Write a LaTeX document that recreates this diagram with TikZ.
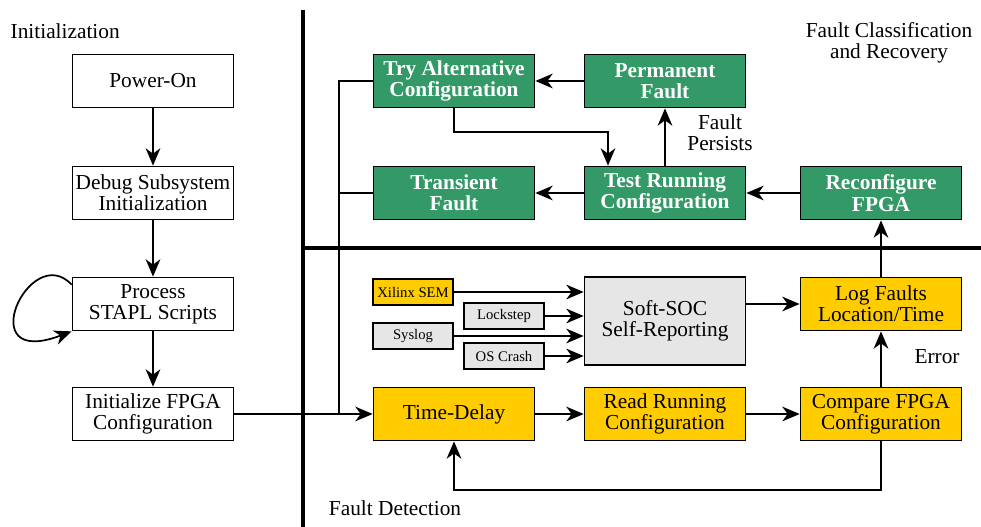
\documentclass[tikz,border=0pt]{standalone}
\usepackage{fontspec}
\setmainfont{Liberation Serif}
\usetikzlibrary{arrows.meta, positioning, calc}
\definecolor{faultGreen}{RGB}{51,153,102}
\definecolor{detectYellow}{RGB}{255,204,0}
\definecolor{reportGray}{RGB}{230,230,230}
\tikzset{
  plain/.style = {
    draw,
    line width=1.3pt,
    fill=white,
    align=center,
    minimum width=120.75pt,
    minimum height=39.75pt,
    inner sep=1pt,
    font=\fontsize{16}{16}\selectfont,
  },
  recovery/.style = {
    plain,
    fill=faultGreen,
    text=white,
    font=\fontsize{16}{16}\selectfont\bfseries,
  },
  detect/.style = {
    plain,
    fill=detectYellow,
  },
  report/.style = {
    plain,
    fill=reportGray,
  },
  source/.style = {
    draw,
    line width=1.3pt,
    minimum width=60pt,
    minimum height=20pt,
    inner sep=1pt,
    font=\fontsize{11}{13}\selectfont,
  },
  flow/.style = {
    -{Stealth[length=13pt, width=11pt, inset=4pt]},
    line width=1.3pt,
  },
  link/.style = {
    line width=1.3pt,
  },
  divider/.style = {
    line width=2.3pt,
  },
  caption/.style = {
    align=center,
    font=\fontsize{16}{16}\selectfont,
  },
}

\begin{document}
\begin{tikzpicture}[x=0.75pt, y=-0.75pt]
\useasboundingbox (0,0) rectangle (981,527);

% section dividers
\draw[divider] (303,10) -- (303,527);
\draw[divider] (303,248) -- (981,248);

% initialization
\node(Init)[caption, anchor=west] at (6,31) {Initialization};
\node(PowerOn)[plain] at (153,81) {Power-On};
\node(Debug)[plain] at (153,193) {Debug Subsystem\\Initialization};
\node(Stapl)[plain] at (153,304) {Process\\STAPL Scripts};
\node(InitFPGA)[plain] at (153,414) {Initialize FPGA\\Configuration};

\draw[flow] (PowerOn) -- (Debug);
\draw[flow] (Debug) -- (Stapl);
\draw[flow] (Stapl) -- (InitFPGA);
\draw[flow] ([yshift=-6pt]Stapl.north west) .. controls (30,240) and (-30,370) .. (Stapl.south west);

% fault classification and recovery
\node(Recovery)[caption] at (889,43) {Fault Classification\\and Recovery};
\node(TryAlt)[recovery] at (454,81) {Try Alternative\\Configuration};
\node(Permanent)[recovery] at (665,81) {Permanent\\Fault};
\node(Transient)[recovery] at (454,193) {Transient\\Fault};
\node(TestRun)[recovery] at (665,193) {Test Running\\Configuration};
\node(Reconfig)[recovery] at (881,193) {Reconfigure\\FPGA};
\node(Persists)[caption] at (720,133) {Fault\\Persists};

\draw[flow] (Permanent) -- (TryAlt);
\draw[flow] (TestRun) -- (Permanent);
\draw[flow] (TestRun) -- (Transient);
\draw[flow] (Reconfig) -- (TestRun);
\coordinate(Bend) at (608,132);
\draw[flow] (TryAlt.south) |- (Bend) -- (Bend |- TestRun.north);

% fault detection
\node(Detection)[caption] at (395,508) {Fault Detection};
\node(Xilinx)[source, fill=detectYellow] at (413,292) {Xilinx SEM};
\node(Lockstep)[source, fill=reportGray] at (504,316) {Lockstep};
\node(Syslog)[source, fill=reportGray] at (413,336) {Syslog};
\node(OSCrash)[source, fill=reportGray] at (504,356) {OS Crash};
\node(SoftSOC)[report, minimum height=66pt] at (665,321) {Soft-SOC\\Self-Reporting};
\node(LogFaults)[detect] at (881,304) {Log Faults\\Location/Time};
\node(TimeDelay)[detect] at (454,414) {Time-Delay};
\node(ReadRun)[detect] at (665,414) {Read Running\\Configuration};
\node(Compare)[detect] at (881,414) {Compare FPGA\\Configuration};
\node(Error)[caption] at (937,357) {Error};

\draw[flow] (Xilinx.east) -- (Xilinx.east -| SoftSOC.west);
\draw[flow] (Lockstep.east) -- (Lockstep.east -| SoftSOC.west);
\draw[flow] (Syslog.east) -- (Syslog.east -| SoftSOC.west);
\draw[flow] (OSCrash.east) -- (OSCrash.east -| SoftSOC.west);
\draw[flow] (SoftSOC.east |- LogFaults) -- (LogFaults);
\draw[flow] (LogFaults) -- (Reconfig);
\draw[flow] (Compare) -- (LogFaults);
\draw[flow] (TimeDelay) -- (ReadRun);
\draw[flow] (ReadRun) -- (Compare);
\coordinate(Loop) at (881,490);
\draw[flow] (Compare.south) -- (Loop) -| (TimeDelay.south);

% entry from initialization and recovery
\coordinate(Merge) at (339,414);
\draw[flow] (InitFPGA) -- (TimeDelay);
\draw[link] (TryAlt.west) -| (Merge);
\draw[link] (Transient.west) -- (Transient.west -| Merge);

\end{tikzpicture}
\end{document}
